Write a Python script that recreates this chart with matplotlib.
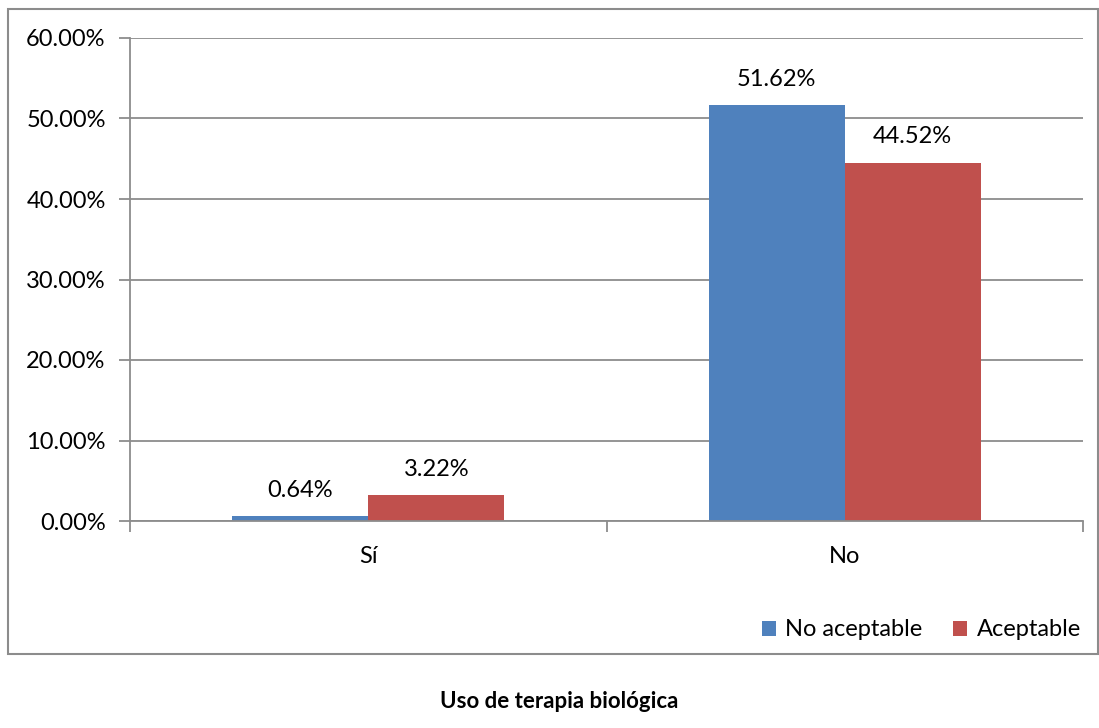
import matplotlib
matplotlib.use("Agg")
import matplotlib.pyplot as plt
from matplotlib.patches import Rectangle
from matplotlib.ticker import FuncFormatter, FixedLocator
import numpy as np

categories = ["Sí", "No"]
series_names = ["No aceptable", "Aceptable"]
no_aceptable = [0.64, 51.62]
aceptable = [3.22, 44.52]
colors = ["#4F81BD", "#C0504D"]
title = "Uso de terapia biológica"

plt.rcParams["font.family"] = ["Lato", "DejaVu Sans"]
GRID = "#8C8C8C"
FS = 17

fig = plt.figure(figsize=(10.99, 7.28), dpi=100)
ax = fig.add_axes([130 / 1099, 1 - 521 / 728, 953 / 1099, 483 / 728])

x = np.arange(len(categories))
w = 0.2855
for i, (vals, name) in enumerate(zip([no_aceptable, aceptable], series_names)):
    pos = x + (i - 0.5) * w
    bars = ax.bar(pos, vals, width=w, color=colors[i], label=name, zorder=3)
    for b, v in zip(bars, vals):
        ax.annotate(f"{v:.2f}%", (b.get_x() + b.get_width() / 2, v),
                    xytext=(0, 18.5), textcoords="offset points",
                    ha="center", va="center", fontsize=FS, color="black")

ax.set_xlim(-0.5, 1.5)
ax.set_ylim(0, 60)
ax.set_yticks(np.arange(0, 61, 10))
ax.yaxis.set_major_formatter(FuncFormatter(lambda v, p: f"{v:.2f}%"))
ax.set_xticks(x)
ax.set_xticklabels(categories)
ax.xaxis.set_minor_locator(FixedLocator([-0.5, 0.5, 1.5]))
ax.tick_params(axis="x", which="major", length=0, pad=18, labelsize=FS)
ax.tick_params(axis="x", which="minor", length=8, color=GRID, width=1.3)
ax.tick_params(axis="y", length=8, color=GRID, width=1.3, pad=9.5, labelsize=FS)

ax.grid(axis="y", color=GRID, linewidth=1.3, zorder=0)
for s in ["top", "right"]:
    ax.spines[s].set_visible(False)
for s in ["left", "bottom"]:
    ax.spines[s].set_color(GRID)
    ax.spines[s].set_linewidth(1.3)
    ax.spines[s].set_zorder(4)

leg = fig.legend(loc="center right", bbox_to_anchor=(1081 / 1099, 1 - 630 / 728),
                 ncol=2, frameon=False, fontsize=FS, handlelength=0.6,
                 handleheight=0.6, handletextpad=0.4, columnspacing=1.3,
                 borderaxespad=0, borderpad=0)

# outer chart frame
fig.patches.append(Rectangle((8 / 1099, 1 - 654 / 728), 1090 / 1099, 645 / 728,
                             transform=fig.transFigure, fill=False,
                             edgecolor=GRID, linewidth=1.5))

fig.text(559 / 1099, 1 - 702 / 728, title, ha="center", va="center",
         fontsize=16, fontweight="bold", color="black")

fig.savefig("out.png", dpi=100, facecolor="white")
